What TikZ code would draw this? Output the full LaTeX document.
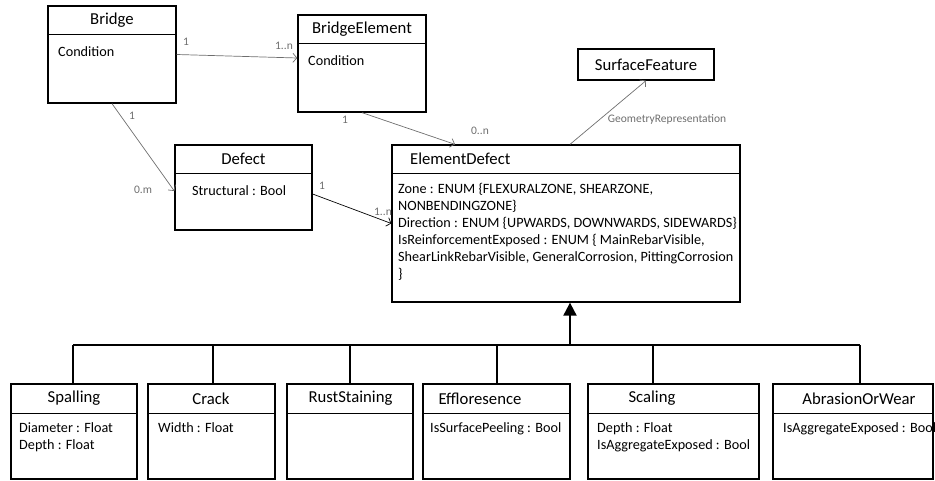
\documentclass[tikz,border=0pt]{standalone}
\usepackage{fontspec}
\setmainfont{Carlito}
\usetikzlibrary{arrows.meta}
\definecolor{linkgray}{HTML}{6E6E6E}
\tikzset{
  classbox/.style={draw, line width=1.3pt, inner sep=0pt, fill=white},
  classtitle/.style={inner sep=0pt, font=\fontsize{16.7}{19}\selectfont},
  attrs/.style={anchor=north west, inner sep=0pt, align=left, font=\fontsize{14.2}{17}\selectfont},
  assoc/.style={draw=linkgray, line width=0.7pt, -{Straight Barb[length=4pt,width=9pt]}},
  mult/.style={text=linkgray, inner sep=0pt, font=\fontsize{11.5}{13}\selectfont},
  inherit/.style={line width=1.2pt}
}
\begin{document}
\begin{tikzpicture}[x=1pt,y=-1pt]
  \useasboundingbox (0,0) rectangle (935,481);
  % Upper classes
  \node[classbox, minimum width=128pt, minimum height=97pt] (bridge) at (112,54.5) {};
  \node[classbox, minimum width=128pt, minimum height=97pt] (belem) at (362,63.5) {};
  \node[classbox, minimum width=136pt, minimum height=31pt] (surf) at (646,64.5) {};
  \node[classbox, minimum width=137pt, minimum height=85pt] (defect) at (243.5,187.5) {};
  \node[classbox, minimum width=348pt, minimum height=157pt] (eldef) at (566,223.5) {};
  % Titles and dividers
  \node[classtitle] (bridgeT) at (112,20) {Bridge};
  \draw[line width=0.8pt] (48,34) -- (176,34);
  \node[classtitle] (belemT) at (362,29) {BridgeElement};
  \draw[line width=0.8pt] (298,43) -- (426,43);
  \node[classtitle] (surfT) at (646,64.5) {SurfaceFeature};
  \node[classtitle] (defectT) at (243.5,159) {Defect};
  \draw[line width=0.8pt] (175,173) -- (312,173);
  \node[classtitle, anchor=west] (eldefT) at (410,159) {ElementDefect};
  \draw[line width=0.8pt] (392,173) -- (740,173);
  % Attributes
  \node[attrs] (bridgeA) at (58,46) {Condition};
  \node[attrs] (belemA) at (308,55) {Condition};
  \node[attrs] (defectA) at (192,185) {Structural : Bool};
  \node[attrs] (eldefA) at (398,183.5) {Zone : ENUM \{FLEXURALZONE, SHEARZONE,\\
    NONBENDINGZONE\}\\
    Direction : ENUM \{UPWARDS, DOWNWARDS, SIDEWARDS\}\\
    IsReinforcementExposed : ENUM \{ MainRebarVisible,\\
    ShearLinkRebarVisible, GeneralCorrosion, PittingCorrosion\\
    \}};
  % Associations
  \draw[assoc] (bridge.east) -- ([yshift=5.5pt]belem.west);
  \node[mult] (m1) at (186,42) {1};
  \node[mult] (m2) at (284,46) {1..n};
  \draw[assoc] (bridge.south) -- ([yshift=-3.5pt]defect.west);
  \node[mult] (m3) at (132,116) {1};
  \node[mult] (m4) at (143,190) {0.m};
  \draw[assoc] (belem.south) -- ([xshift=-111pt]eldef.north);
  \node[mult] (m5) at (345,120) {1};
  \node[mult] (m6) at (480,131) {0..n};
  \draw[assoc] ([xshift=4pt]eldef.north) -- (surf.south);
  \node[mult] (m7) at (667,119) {GeometryRepresentation};
  \draw[assoc, draw=black] ([yshift=-6.5pt]defect.east) -- (eldef.west);
  \node[mult] (m8) at (322,186) {1};
  \node[mult] (m9) at (383,212) {1..n};
  % Subclasses
  \node[classbox, minimum width=126pt, minimum height=95pt] (spall) at (74,431.5) {};
  \node[classbox, minimum width=127pt, minimum height=95pt] (crack) at (211.5,431.5) {};
  \node[classbox, minimum width=126pt, minimum height=95pt] (rust) at (350,431.5) {};
  \node[classbox, minimum width=147pt, minimum height=95pt] (efflo) at (496.5,431.5) {};
  \node[classbox, minimum width=171pt, minimum height=95pt] (scal) at (673.5,431.5) {};
  \node[classbox, minimum width=160pt, minimum height=95pt] (abras) at (853,431.5) {};
  \foreach \l/\r in {11/137, 148/275, 287/413, 423/570, 588/759, 773/933}
    \draw[line width=0.8pt] (\l,413) -- (\r,413);
  \node[classtitle] (spallT) at (74,398.5) {Spalling};
  \node[classtitle] (crackT) at (211,398.5) {Crack};
  \node[classtitle] (rustT) at (350.5,398.5) {RustStaining};
  \node[classtitle] (effloT) at (480,398.5) {Effloresence};
  \node[classtitle] (scalT) at (652,398.5) {Scaling};
  \node[classtitle] (abrasT) at (859,398.5) {AbrasionOrWear};
  \node[attrs] (spallA) at (19,422) {Diameter : Float\\Depth : Float};
  \node[attrs] (crackA) at (158,422) {Width : Float};
  \node[attrs] (effloA) at (430,422) {IsSurfacePeeling : Bool};
  \node[attrs] (scalA) at (597,422) {Depth : Float\\IsAggregateExposed : Bool};
  \node[attrs] (abrasA) at (783,422) {IsAggregateExposed : Bool};
  % Generalisation tree
  \coordinate (bar) at (570,345);
  \draw[inherit] (73,345) -- (860,345);
  \foreach \x/\n in {73/spall, 213/crack, 350/rust, 497/efflo, 653/scal, 860/abras}
    \draw[inherit] (\x,345) -- (\x,384);
  \draw[line width=2pt, -{Triangle[length=13pt,width=13pt]}] (bar) -- ([xshift=4pt]eldef.south);
\end{tikzpicture}
\end{document}
